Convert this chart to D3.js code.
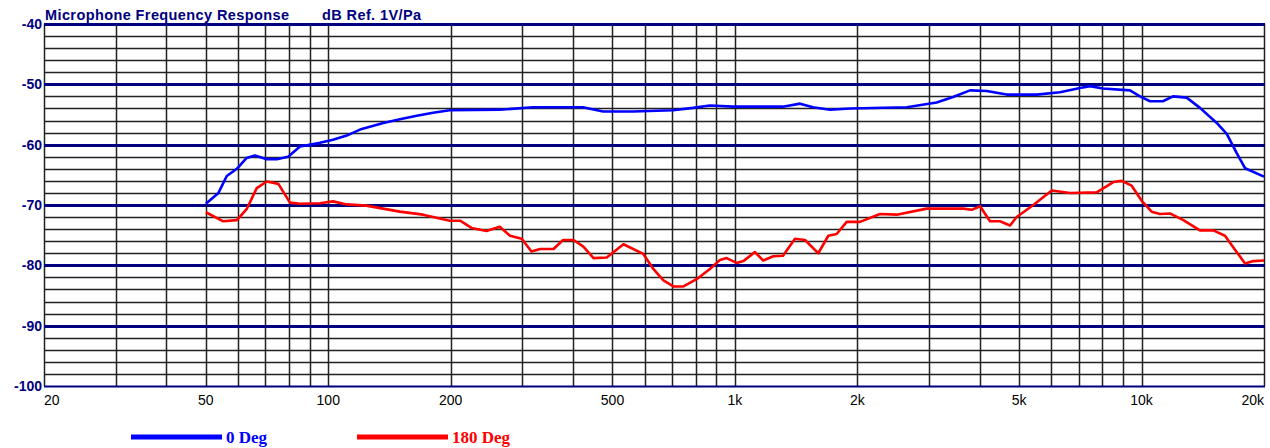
<!DOCTYPE html>
<html>
<head>
<meta charset="utf-8">
<script src="https://cdn.jsdelivr.net/npm/d3@7"></script>
<style>
  html, body { margin: 0; padding: 0; background: #fff; }
  svg { display: block; }
</style>
</head>
<body>
<script>
const WIDTH_SVG = 1270;
const HEIGHT_SVG = 448;

// Axis setup
const FREQ_DOMAIN = [20, 20000];
const DB_DOMAIN = [-100, -40];
const freqTicks = [20, 50, 100, 200, 500, 1000, 2000, 5000, 10000, 20000];
const freqLabels = ["20", "50", "100", "200", "500", "1k", "2k", "5k", "10k", "20k"];
const dbTicks = [-40, -50, -60, -70, -80, -90, -100];

const titleText = "Microphone Frequency Response";
const unitText = "dB Ref. 1V/Pa";

// 0 Deg series
const freq0 = [50, 53.7, 56.3, 59.6, 63, 66, 70.6, 74.7, 79.7, 85.2,
    95.4, 102.7, 111, 119.7, 136.6, 150, 165, 181, 199, 264,
    319, 423, 474, 562, 704, 789, 868, 989, 1313, 1446,
    1556, 1713, 1919, 2646, 3134, 3438, 3786, 4161, 4658, 5521,
    6302, 7056, 7467, 8038, 9364, 9910, 10488, 11287, 11944, 12910,
    13920, 15304, 16196, 17138, 17964, 20000];
const db0 = [-69.8, -68.0, -65.2, -64.0, -62.2, -61.8, -62.4, -62.4, -62.0, -60.3,
    -59.7, -59.2, -58.5, -57.5, -56.4, -55.8, -55.2, -54.7, -54.3, -54.2,
    -53.8, -53.8, -54.5, -54.5, -54.3, -53.9, -53.5, -53.7, -53.7, -53.2,
    -53.8, -54.2, -54.0, -53.8, -53.0, -52.1, -51.0, -51.1, -51.7, -51.7,
    -51.3, -50.6, -50.3, -50.7, -51.0, -52.0, -52.8, -52.8, -52.0, -52.2,
    -53.9, -56.4, -58.2, -61.4, -63.9, -65.3];

// 180 Deg series
const freq180 = [50, 55.2, 59.6, 63, 66.7, 70.6, 75.4, 80.5, 85.2, 95.4,
    102.7, 111, 124, 150, 171, 199, 211, 225, 245, 264,
    280, 299, 316, 332, 358, 378, 401, 424, 449, 484,
    532, 595, 630, 667, 706, 747, 805, 868, 919, 954,
    1010, 1049, 1120, 1174, 1243, 1313, 1405, 1487, 1603, 1697,
    1779, 1883, 2030, 2274, 2500, 2962, 3644, 3822, 4006, 4240,
    4486, 4748, 4930, 5418, 6012, 6668, 7756, 8520, 8936, 9454,
    10008, 10588, 11098, 11744, 12666, 13920, 15010, 16036, 16972, 17964,
    18824, 20000];
const db180 = [-71.2, -72.7, -72.5, -70.7, -67.2, -66.1, -66.5, -69.6, -69.8, -69.7,
    -69.4, -69.9, -70.1, -71.1, -71.6, -72.6, -72.6, -73.8, -74.3, -73.6,
    -75.1, -75.6, -77.7, -77.3, -77.3, -75.8, -75.8, -76.9, -78.8, -78.7,
    -76.5, -78.1, -80.6, -82.5, -83.5, -83.5, -82.3, -80.6, -79.1, -78.8,
    -79.6, -79.3, -77.8, -79.2, -78.5, -78.4, -75.6, -75.8, -78.0, -75.1,
    -74.8, -72.8, -72.8, -71.5, -71.6, -70.6, -70.6, -70.8, -70.2, -72.7,
    -72.7, -73.4, -72.0, -70.0, -67.6, -68.0, -67.9, -66.2, -66.0, -66.8,
    -69.3, -71.1, -71.5, -71.4, -72.5, -74.2, -74.2, -75.1, -77.4, -79.7,
    -79.3, -79.2];

const seriesNames = ["0 Deg", "180 Deg"];
const seriesColors = ["#0000ff", "#ff0000"];

const PLOT_LEFT = 44;
const PLOT_RIGHT = 1264;
const PLOT_TOP = 24;
const PLOT_BOTTOM = 386;
const NAVY = "#000080";

const svg = d3.select("body")
    .append("svg")
        .attr("width", WIDTH_SVG)
        .attr("height", HEIGHT_SVG)
        .attr("viewBox", `0 0 ${WIDTH_SVG} ${HEIGHT_SVG}`);

const x = d3.scaleLog().domain(FREQ_DOMAIN).range([PLOT_LEFT, PLOT_RIGHT]);
const y = d3.scaleLinear().domain(DB_DOMAIN).range([PLOT_BOTTOM, PLOT_TOP]);

// minor horizontal grid every 2 dB
const minorDb = d3.range(DB_DOMAIN[0], DB_DOMAIN[1] + 1, 2).filter(v => v % 10 !== 0);
svg.append("g")
    .selectAll("line")
    .data(minorDb)
    .join("line")
        .attr("x1", PLOT_LEFT)
        .attr("x2", PLOT_RIGHT)
        .attr("y1", d => Math.round(y(d)) + 0.5)
        .attr("y2", d => Math.round(y(d)) + 0.5)
        .attr("stroke", "#222")
        .attr("stroke-width", 1.5);

// vertical log grid
svg.append("g")
    .selectAll("line")
    .data(x.ticks())
    .join("line")
        .attr("x1", d => Math.round(x(d)) + 0.5)
        .attr("x2", d => Math.round(x(d)) + 0.5)
        .attr("y1", PLOT_TOP)
        .attr("y2", PLOT_BOTTOM)
        .attr("stroke", "#222")
        .attr("stroke-width", 1.5);

// major horizontal grid every 10 dB
svg.append("g")
    .selectAll("line")
    .data(dbTicks)
    .join("line")
        .attr("x1", PLOT_LEFT)
        .attr("x2", PLOT_RIGHT + 1)
        .attr("y1", d => Math.round(y(d)) + 0.5)
        .attr("y2", d => Math.round(y(d)) + 0.5)
        .attr("stroke", NAVY)
        .attr("stroke-width", d => d === -100 ? 2 : 3);

// y labels
svg.append("g")
    .selectAll("text")
    .data(dbTicks)
    .join("text")
        .attr("x", PLOT_LEFT - 2)
        .attr("y", d => y(d) + 5)
        .attr("text-anchor", "end")
        .attr("font-family", "Liberation Sans, Arial, sans-serif")
        .attr("font-weight", "bold")
        .attr("font-size", 14)
        .attr("fill", NAVY)
        .text(d => d);

// x labels
svg.append("g")
    .selectAll("text")
    .data(freqTicks)
    .join("text")
        .attr("x", d => x(d))
        .attr("y", 405)
        .attr("text-anchor", (d, i) => i === 0 ? "start" : (i === freqTicks.length - 1 ? "end" : "middle"))
        .attr("font-family", "Liberation Sans, Arial, sans-serif")
        .attr("font-size", 14)
        .attr("fill", "#000")
        .text((d, i) => freqLabels[i]);

// title
const title = svg.append("text")
    .attr("x", PLOT_LEFT + 1)
    .attr("y", 20)
    .attr("font-family", "Liberation Sans, Arial, sans-serif")
    .attr("font-weight", "bold")
    .attr("font-size", 14.5)
    .attr("letter-spacing", 0.4)
    .attr("fill", NAVY);
title.append("tspan").text(titleText);
title.append("tspan").attr("x", 322).text(unitText);

// curves
const line = d3.line()
    .x(d => x(d[0]))
    .y(d => y(d[1]));

const series = [
    d3.zip(freq0, db0),
    d3.zip(freq180, db180)
];

svg.append("g")
    .selectAll("path")
    .data(series)
    .join("path")
        .attr("d", line)
        .attr("fill", "none")
        .attr("stroke", (d, i) => seriesColors[i])
        .attr("stroke-width", 2.6)
        .attr("stroke-linejoin", "round");

// legend
const legendX = [131, 357];
const legend = svg.append("g")
    .selectAll("g")
    .data(seriesNames)
    .join("g")
        .attr("transform", (d, i) => `translate(${legendX[i]}, 437)`);

legend.append("line")
    .attr("x1", 0)
    .attr("x2", 91)
    .attr("stroke", (d, i) => seriesColors[i])
    .attr("stroke-width", 5);

legend.append("text")
    .attr("x", 95)
    .attr("y", 6)
    .attr("font-family", "Liberation Serif, Times New Roman, serif")
    .attr("font-weight", "bold")
    .attr("font-size", 17)
    .attr("fill", (d, i) => seriesColors[i])
    .text(d => d);
</script>
</body>
</html>
